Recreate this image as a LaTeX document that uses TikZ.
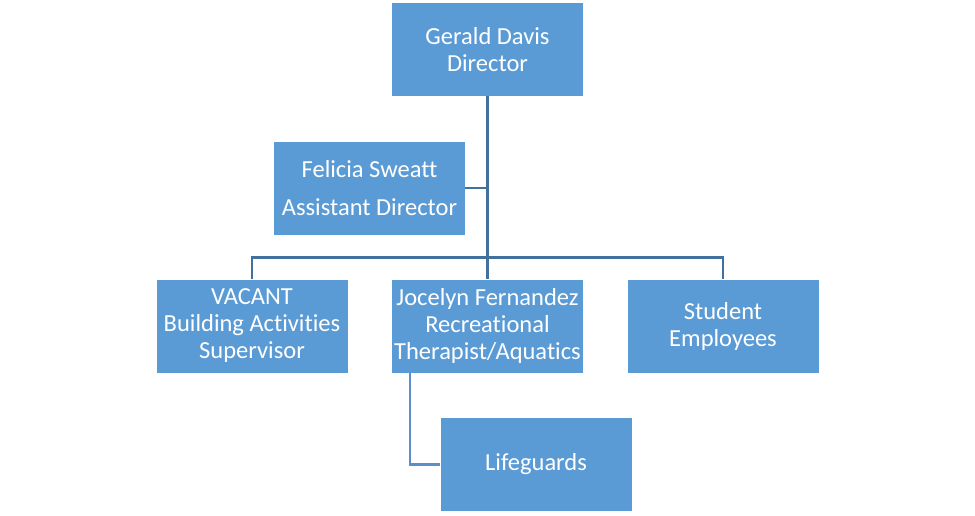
\documentclass[tikz,border=0pt]{standalone}
\usepackage{fontspec}
\setmainfont{Carlito}[Ligatures=NoCommon]
\definecolor{boxfill}{HTML}{5B9BD5}
\definecolor{trunk}{HTML}{41719C}
\definecolor{branch}{HTML}{5B8FCB}

\begin{document}
\begin{tikzpicture}[x=1pt,y=1pt,
  orgbox/.style={rectangle,fill=boxfill,text=white,minimum width=191pt,minimum height=93pt,
    inner sep=0pt,align=center,font=\fontsize{24.5}{27}\selectfont},
  link/.style={draw=trunk,line width=2.4pt},
  sublink/.style={draw=branch,line width=2.2pt}]
  \useasboundingbox (0,0) rectangle (975,-515);
  \node[orgbox] (dir) at (487.5,-49.5) {Gerald Davis\\Director};
  \node[orgbox] (asst) at (369.5,-188) {Felicia Sweatt\\[11pt]Assistant Director};
  \node[orgbox] (vac) at (252,-326) {VACANT\\Building Activities\\Supervisor};
  \node[orgbox] (aqua) at (487.5,-326) {Jocelyn Fernandez\\Recreational\\Therapist/Aquatics};
  \node[orgbox] (stud) at (723,-326) {Student\\Employees};
  \node[orgbox] (life) at (536,-464.5) {Lifeguards};
  \draw[link] (dir.south) -- (aqua.north);
  \draw[link] (asst.east) -- (asst.east -| dir.south);
  \draw[link] (vac.north) -- ++(0,22) -| (stud.north);
  \draw[sublink] (aqua.south west) ++(18,0) |- (life.west);
\end{tikzpicture}
\end{document}
